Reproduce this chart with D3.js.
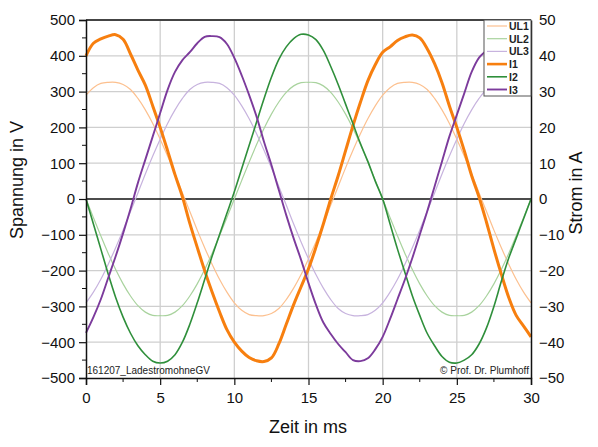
<!DOCTYPE html>
<html>
<head>
<meta charset="utf-8">
<script src="https://cdn.jsdelivr.net/npm/d3@7/dist/d3.min.js"></script>
<style>
  html, body { margin: 0; padding: 0; background: #fff; }
  svg { display: block; font-family: "Liberation Sans", Arial, sans-serif; }
</style>
</head>
<body>
<svg id="chart" width="598" height="447"></svg>
<script>
// Sample times in ms (0.5 ms step)
const time = d3.range(0, 30.001, 0.5);

// Phase voltages in V
const UL1 = [290, 311, 323, 326, 326, 320, 306, 281, 249, 211, 167, 120, 70, 17, -35, -87, -136, -182, -224, -260,
  -290, -311, -323, -326, -326, -320, -306, -281, -249, -211, -167, -120, -70, -17, 35, 87, 136, 182, 224, 260,
  290, 311, 323, 326, 326, 320, 306, 281, 249, 211, 167, 120, 70, 17, -35, -87, -136, -182, -224, -260, -290];
const UL2 = [0, -52, -103, -152, -197, -237, -271, -298, -316, -325, -326, -325, -316, -298, -271, -237, -197, -152, -103, -52,
  0, 52, 103, 152, 197, 237, 271, 298, 316, 325, 326, 325, 316, 298, 271, 237, 197, 152, 103, 52,
  0, -52, -103, -152, -197, -237, -271, -298, -316, -325, -326, -325, -316, -298, -271, -237, -197, -152, -103, -52, 0];
const UL3 = [-290, -260, -224, -182, -136, -87, -35, 17, 70, 120, 167, 211, 249, 281, 306, 320, 326, 326, 323, 311,
  290, 260, 224, 182, 136, 87, 35, -17, -70, -120, -167, -211, -249, -281, -306, -320, -326, -326, -323, -311,
  -290, -260, -224, -182, -136, -87, -35, 17, 70, 120, 167, 211, 249, 281, 306, 320, 326, 326, 323, 311, 290];

// Line currents in A
const I1 = [40, 43.5, 44.7, 45.5, 45.9, 44.6, 40.5, 36, 31.8, 26, 20, 13.5, 6.8, 0.6, -6.8, -13.5, -20, -26, -31.5, -36.5,
  -40, -42.5, -44.3, -45.2, -45.4, -44.4, -40.5, -35, -29.5, -24.5, -19.5, -13.5, -7, 0, 6.5, 13.5, 20.5, 27, 33, 37.5,
  41, 42.5, 44.3, 45.3, 45.8, 45, 42, 37.8, 32.5, 26, 20, 13.5, 6.5, 0.5, -6.5, -14, -21, -27.5, -32.5, -35.5, -38.5];
const I2 = [0, -7, -14, -21, -27.5, -33, -37.5, -41, -43.5, -45.3, -45.8, -45.3, -43.5, -40, -35, -29, -22.5, -16, -10, -4,
  2, 8.5, 15, 21.5, 28, 34, 39, 42.5, 44.8, 46, 45.8, 44.5, 41.5, 37, 32, 26.5, 21, 15.5, 10.5, 5,
  0, -7, -14, -20.5, -27, -32.5, -37.5, -41, -44, -45.6, -45.8, -45, -43.5, -40.5, -36, -30, -23, -16.5, -11, -5.5, 0];
const I3 = [-37.4, -33, -28, -22, -16, -9.6, -2.8, 4.5, 11, 17.5, 24, 30.5, 35.5, 38.8, 41, 43.5, 45.3, 45.5, 45.2, 43.3,
  39.4, 34.5, 29, 23, 16, 9.5, 2.5, -4.5, -11, -17, -23.5, -29.5, -34.5, -37.7, -40.5, -42.8, -45, -45.3, -44.5, -42,
  -38.5, -33.5, -28, -22.5, -16.5, -10, -3.5, 3.5, 10.5, 17.5, 23.5, 29.5, 35.5, 39.5, 41.5, 43.5, 45.3, 45.7, 45.2, 43, 39];

// Axis ticks
const xTicks = [0, 5, 10, 15, 20, 25, 30];
const yLeftTicks = [-500, -400, -300, -200, -100, 0, 100, 200, 300, 400, 500];
const yRightTicks = [-50, -40, -30, -20, -10, 0, 10, 20, 30, 40, 50];

const seriesNames = ["UL1", "UL2", "UL3", "I1", "I2", "I3"];
const seriesColors = ["#fcc08f", "#a9d39e", "#c7b3de", "#f77f0f", "#2f8f3b", "#7c3b9c"];
const seriesWidths = [1.2, 1.2, 1.2, 3, 1.6, 1.9];
const seriesData = [UL1, UL2, UL3, I1, I2, I3];
const seriesAxis = ["V", "V", "V", "A", "A", "A"];

const svg = d3.select("#chart");
const L = 86, R = 531, T = 20, B = 378;

const x = d3.scaleLinear().domain([0, 30]).range([L, R]);
const yV = d3.scaleLinear().domain([-500, 500]).range([B, T]);
const yA = d3.scaleLinear().domain([-50, 50]).range([B, T]);

// Grid
const grid = svg.append("g");
grid.selectAll("line.gx").data(xTicks.slice(1, -1)).join("line")
  .attr("x1", d => x(d)).attr("x2", d => x(d)).attr("y1", T).attr("y2", B)
  .attr("stroke", "#cfcfcf").attr("stroke-width", 1.3);
grid.selectAll("line.gy").data(yLeftTicks.filter(d => d !== 0 && Math.abs(d) !== 500)).join("line")
  .attr("x1", L).attr("x2", R).attr("y1", d => yV(d)).attr("y2", d => yV(d))
  .attr("stroke", "#cfcfcf").attr("stroke-width", 1.3);
// Zero line
svg.append("line").attr("x1", L).attr("x2", R).attr("y1", yV(0)).attr("y2", yV(0))
  .attr("stroke", "#111").attr("stroke-width", 1.5);

// Curves
const plot = svg.append("g");
seriesData.forEach((vals, i) => {
  const ys = seriesAxis[i] === "V" ? yV : yA;
  const line = d3.line().x((d, j) => x(time[j])).y(d => ys(d)).curve(d3.curveCatmullRom.alpha(0.5));
  plot.append("path").datum(vals).attr("d", line)
    .attr("fill", "none").attr("stroke", seriesColors[i]).attr("stroke-width", seriesWidths[i])
    .attr("stroke-linejoin", "round");
});

// Stamp texts inside the plot
svg.append("text").attr("x", L + 1).attr("y", 374).attr("font-size", 10).attr("fill", "#222")
  .text("161207_LadestromohneGV");
svg.append("text").attr("x", R - 2).attr("y", 374).attr("font-size", 10).attr("fill", "#222")
  .attr("text-anchor", "end").text("© Prof. Dr. Plumhoff");

// Frame top
svg.append("line").attr("x1", L).attr("x2", R).attr("y1", T).attr("y2", T)
  .attr("stroke", "#444").attr("stroke-width", 2);

// Left axis
const axL = d3.axisLeft(yV).tickValues(yLeftTicks).tickSize(7).tickPadding(4).tickFormat(d3.format("d"));
const gL = svg.append("g").attr("transform", `translate(${L},0)`).call(axL);
gL.append("g").selectAll("line").data(d3.range(-450, 500, 100)).join("line")
  .attr("x1", -4).attr("x2", 0).attr("y1", d => yV(d)).attr("y2", d => yV(d)).attr("stroke", "#111");

// Right axis
const axR = d3.axisRight(yA).tickValues(yRightTicks).tickSize(0).tickPadding(8).tickFormat(d3.format("d"));
const gR = svg.append("g").attr("transform", `translate(${R},0)`).call(axR);

// Bottom axis
const axB = d3.axisBottom(x).tickValues(xTicks).tickSize(7).tickPadding(7).tickFormat(d3.format("d"));
const gB = svg.append("g").attr("transform", `translate(0,${B})`).call(axB);
gB.append("g").selectAll("line").data(d3.range(2.5, 30, 5)).join("line")
  .attr("x1", d => x(d)).attr("x2", d => x(d)).attr("y1", 0).attr("y2", 4).attr("stroke", "#111");

[gL, gR, gB].forEach(g => {
  g.select(".domain").attr("stroke", "#111").attr("stroke-width", 1.5);
  g.selectAll(".tick line").attr("stroke", "#111").attr("stroke-width", 1.2);
  g.selectAll("text").attr("font-size", 15).attr("fill", "#111")
    .attr("font-family", "\"Liberation Sans\", Arial, sans-serif");
});

// Axis titles
svg.append("text").attr("x", 308).attr("y", 433).attr("text-anchor", "middle")
  .attr("font-size", 18).attr("fill", "#111").text("Zeit in ms");
svg.append("text").attr("transform", "translate(23,180) rotate(-90)").attr("text-anchor", "middle")
  .attr("font-size", 18).attr("fill", "#111").text("Spannung in V");
svg.append("text").attr("transform", "translate(582,193) rotate(-90)").attr("text-anchor", "middle")
  .attr("font-size", 18).attr("fill", "#111").text("Strom in A");

// Legend
const lg = svg.append("g");
lg.append("rect").attr("x", 484).attr("y", 20).attr("width", 47).attr("height", 76)
  .attr("fill", "#fff").attr("stroke", "#555").attr("stroke-width", 1);
seriesNames.forEach((name, i) => {
  const cy = 26 + i * 12.7;
  lg.append("line").attr("x1", 487).attr("x2", 507).attr("y1", cy).attr("y2", cy)
    .attr("stroke", seriesColors[i]).attr("stroke-width", Math.min(seriesWidths[i], 2.6));
  lg.append("text").attr("x", 509).attr("y", cy + 4).attr("font-size", 10.5).attr("font-weight", "bold")
    .attr("fill", "#222").text(name);
});
</script>
</body>
</html>
